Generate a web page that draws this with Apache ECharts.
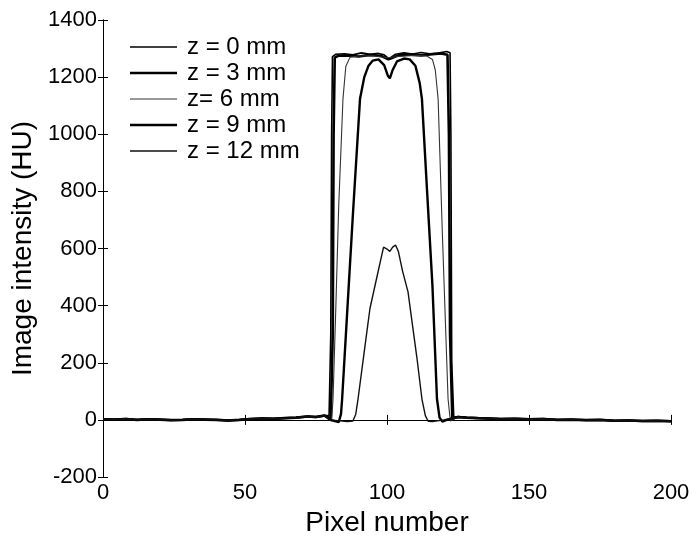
<!DOCTYPE html>
<html>
<head>
<meta charset="utf-8">
<script src="https://cdn.jsdelivr.net/npm/echarts@6/dist/echarts.min.js"></script>
<style>
html,body{margin:0;padding:0;background:#fff;}
#chart{width:698px;height:542px;}
</style>
</head>
<body>
<div id="chart"></div>
<script>
// ---- data ----
var seriesNames = ['z = 0 mm', 'z = 3 mm', 'z= 6 mm', 'z = 9 mm', 'z = 12 mm'];
var xTicks = [0, 50, 100, 150, 200];
var yTicks = [-200, 0, 200, 400, 600, 800, 1000, 1200, 1400];

// shared noisy baseline left of the object
var baseLeftX = [0, 4, 8, 12, 16, 20, 24, 28, 32, 36, 40, 44, 48, 52, 56, 60, 64, 68, 72, 75, 78];
var baseLeftY = [2, 1, 3, 0, 2, 1, -1, 0, 2, 1, 0, -2, 0, 3, 5, 4, 6, 8, 12, 10, 15];
// shared noisy baseline right of the object
var baseRightX = [125, 128, 132, 136, 140, 145, 150, 155, 160, 165, 170, 175, 180, 185, 190, 195, 200];
var baseRightY = [10, 8, 6, 5, 3, 4, 2, 3, 0, 1, -1, 0, -3, -2, -4, -3, -5];

// z = 0 mm profile
var z0X = [79.6, 80.2, 80.5, 80.8, 82, 85, 88, 91, 94, 97, 99, 100.5, 101.5, 103, 106, 109, 112, 115, 118, 121, 122.2, 122.5, 122.8, 123.5];
var z0Y = [15, 300, 1000, 1272, 1280, 1282, 1278, 1285, 1280, 1283, 1278, 1266, 1270, 1280, 1285, 1281, 1286, 1282, 1284, 1290, 1285, 1000, 200, 12];
// z = 3 mm profile
var z3X = [80.2, 80.9, 81.2, 81.6, 83, 86, 90, 94, 98, 100.5, 101.5, 104, 108, 112, 116, 119, 121.3, 121.8, 122.2, 123];
var z3Y = [5, 300, 1000, 1268, 1275, 1276, 1272, 1278, 1274, 1262, 1266, 1276, 1279, 1276, 1280, 1283, 1278, 1000, 300, 5];
// z = 6 mm profile
var z6X = [79.5, 80.5, 81, 82, 83, 84.5, 85.5, 87, 90, 95, 100, 105, 110, 114, 116, 117, 118, 119.5, 121.5, 122.3, 123];
var z6Y = [2, -4, 73, 400, 750, 1124, 1238, 1270, 1274, 1275, 1268, 1273, 1276, 1274, 1262, 1225, 1124, 650, 73, -4, 2];
// z = 9 mm profile
var z9X = [80, 83, 83.8, 84.2, 86, 88, 90.5, 92, 93.5, 95, 97, 99, 100.3, 101, 102, 103.5, 106, 108, 110, 111.5, 112.3, 114, 116, 117.6, 118.5, 119.5, 121];
var z9Y = [0, -8, 20, 73, 380, 720, 1124, 1200, 1240, 1258, 1262, 1242, 1205, 1196, 1225, 1255, 1265, 1262, 1240, 1180, 1124, 820, 470, 73, 8, -6, 0];
// z = 12 mm profile
var z12X = [80, 86, 88, 89, 89.8, 92, 94, 96, 98, 98.8, 100, 101, 102, 103, 104, 105.5, 107.4, 109, 110.5, 112.3, 113.5, 114.5, 116, 120];
var z12Y = [0, -6, -4, 20, 73, 240, 390, 480, 570, 605, 598, 590, 605, 612, 590, 520, 448, 330, 220, 73, 15, -5, -6, 0];

var lineWidths = [1.6, 2.6, 1.1, 2.4, 1.4];
var lineColors = ['#000', '#000', '#333', '#000', '#111'];

function build(xs, ys) {
  var d = [], i;
  for (i = 0; i < baseLeftX.length; i++) d.push([baseLeftX[i], baseLeftY[i]]);
  for (i = 0; i < xs.length; i++) d.push([xs[i], ys[i]]);
  for (i = 0; i < baseRightX.length; i++) d.push([baseRightX[i], baseRightY[i]]);
  return d;
}
var profiles = [[z0X, z0Y], [z3X, z3Y], [z6X, z6Y], [z9X, z9Y], [z12X, z12Y]];

var ICON_H = 24;
// legend icon: a horizontal bar of given thickness centred in a 47 x ICON_H box
function barIcon(w) {
  var a = (ICON_H - w) / 2, b = (ICON_H + w) / 2;
  return 'path://M0,0L0.01,0L0.01,0.01Z' +
    'M0,' + a + 'L47,' + a + 'L47,' + b + 'L0,' + b + 'Z' +
    'M47,' + ICON_H + 'L46.99,' + ICON_H + 'L46.99,' + (ICON_H - 0.01) + 'Z';
}

var font = "'Liberation Sans', Arial, Helvetica, sans-serif";
var series = profiles.map(function (p, k) {
  return {
    name: seriesNames[k],
    type: 'line',
    data: build(p[0], p[1]),
    symbol: 'none',
    lineStyle: { color: lineColors[k], width: lineWidths[k] },
    itemStyle: { color: lineColors[k] },
    animation: false
  };
});

var chart = echarts.init(document.getElementById('chart'), null, { renderer: 'canvas' });
chart.setOption({
  backgroundColor: '#fff',
  animation: false,
  grid: { left: 103, right: 27, top: 20, bottom: 65, containLabel: false },
  legend: {
    orient: 'vertical',
    left: 125, top: 30,
    itemWidth: 47, itemHeight: ICON_H, itemGap: 2,
    data: seriesNames.map(function (n, k) {
      return { name: n, icon: barIcon(lineWidths[k]), itemStyle: { color: lineColors[k], borderWidth: 0 } };
    }),
    textStyle: { fontFamily: font, fontSize: 24, color: '#000', padding: [0, 0, 0, 5] }
  },
  xAxis: [{
    type: 'value', min: xTicks[0], max: xTicks[xTicks.length - 1], interval: 50,
    name: 'Pixel number', nameLocation: 'middle', nameGap: 31,
    nameTextStyle: { fontFamily: font, fontSize: 28, color: '#000' },
    axisLine: { lineStyle: { color: '#000', width: 1 } },
    axisTick: { inside: true, length: 5, lineStyle: { color: '#000' } },
    axisLabel: { fontFamily: font, fontSize: 22, color: '#000', margin: 5, formatter: function (v) { return String(v); } },
    splitLine: { show: false }
  }, {
    type: 'value', position: 'top', min: xTicks[0], max: xTicks[xTicks.length - 1], interval: 50,
    axisLine: { lineStyle: { color: '#000', width: 1 } },
    axisTick: { inside: true, length: 5, lineStyle: { color: '#000' } },
    axisLabel: { show: false }, splitLine: { show: false }
  }],
  yAxis: [{
    type: 'value', min: yTicks[0], max: yTicks[yTicks.length - 1], interval: 200,
    name: 'Image intensity (HU)', nameLocation: 'middle', nameGap: 60,
    nameTextStyle: { fontFamily: font, fontSize: 28, color: '#000' },
    axisLine: { lineStyle: { color: '#000', width: 1 } },
    axisTick: { inside: true, length: 5, lineStyle: { color: '#000' } },
    axisLabel: { fontFamily: font, fontSize: 22, color: '#000', margin: 6, formatter: function (v) { return String(v); } },
    splitLine: { show: false }
  }, {
    type: 'value', position: 'right', min: yTicks[0], max: yTicks[yTicks.length - 1], interval: 200,
    axisLine: { lineStyle: { color: '#000', width: 1 } },
    axisTick: { inside: true, length: 5, lineStyle: { color: '#000' } },
    axisLabel: { show: false }, splitLine: { show: false }
  }],
  series: series
});
</script>
</body>
</html>
